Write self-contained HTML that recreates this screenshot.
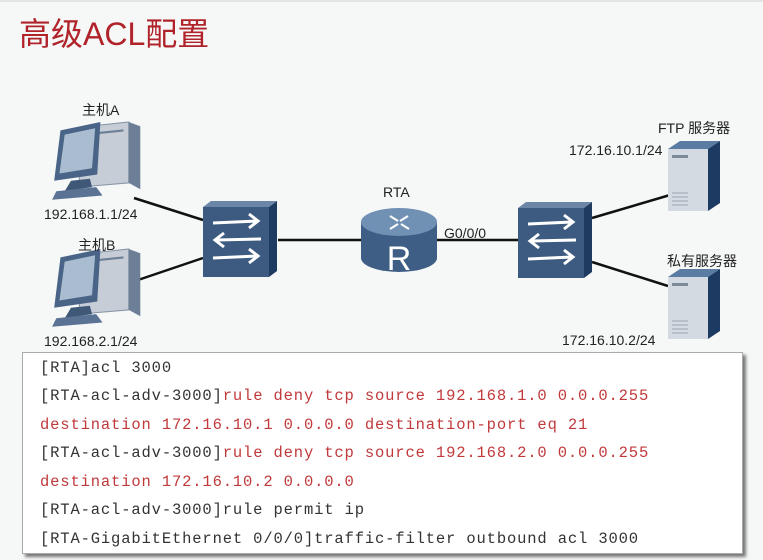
<!DOCTYPE html>
<html><head><meta charset="utf-8"><style>
html,body{margin:0;padding:0;background:#f6f8f7;}
body{width:763px;height:560px;position:relative;overflow:hidden;font-family:"Liberation Sans","Noto Sans CJK SC",sans-serif;}
.t{position:absolute;font-size:14px;color:#222;}
.code{position:absolute;left:22px;top:352px;width:719px;height:200px;background:#fff;border:1px solid #aaa;box-shadow:3px 3px 3px #777;}
.code div{position:absolute;left:17px;font-family:"Liberation Mono",monospace;font-size:15.5px;color:#333;white-space:pre;letter-spacing:0.85px;}
.code .r{color:#c0393b;}
</style></head><body>
<div style="position:absolute;left:0;top:0;width:763px;height:2px;background:#e4e4e4"></div>
<div style="position:absolute;left:19px;top:9px;font-size:32px;color:#b1232b;font-family:'Liberation Sans','Noto Sans CJK SC',sans-serif;">高级ACL配置</div>
<svg width="763" height="352" style="position:absolute;left:0;top:0">
<defs>
<g id="pc">
 <polygon points="28,5 75,0 75,58 28,62" fill="#c6cdd6" stroke="#8896a6"/>
 <polygon points="75,0 86,4 86,64 75,58" fill="#6d7f96"/>
 <line x1="32" y1="12" x2="70" y2="8" stroke="#6d7f96" stroke-width="2"/>
 <polygon points="10,8 48,0 45,50 4,56" fill="#4a6487"/>
 <polygon points="14,12 43,6 40,44 9,49" fill="#a9bcd0"/>
 <polygon points="20,56 38,54 40,62 14,66" fill="#3f5877"/>
 <polygon points="6,66 44,62 50,70 2,74" fill="#5a7394"/>
</g>
<g id="sw">
 <polygon points="0,6 8,0 74,0 66,6" fill="#6b86a6"/>
 <polygon points="66,6 74,0 74,70 66,76" fill="#1f3b5f"/>
 <rect x="0" y="6" width="66" height="70" fill="#3d5b80"/>
 <g stroke="#fff" stroke-width="3" fill="none">
 <line x1="10" y1="22" x2="54" y2="20"/><polyline points="46,13 55,20 46,27"/>
 <line x1="14" y1="39" x2="58" y2="38"/><polyline points="21,32 12,39 21,46"/>
 <line x1="10" y1="57" x2="54" y2="55"/><polyline points="46,48 55,55 46,62"/>
 </g>
</g>
<g id="srv">
 <polygon points="0,8 12,0 52,0 40,8" fill="#5a7ca3"/>
 <polygon points="40,8 52,0 52,62 40,70" fill="#1d3a62"/>
 <rect x="0" y="8" width="40" height="62" fill="#d4dae2"/>
 <rect x="4" y="14" width="16" height="3" fill="#7d8a99"/>
 <g stroke="#9aa6b3"><line x1="4" y1="52" x2="20" y2="52"/><line x1="4" y1="56" x2="20" y2="56"/><line x1="4" y1="60" x2="20" y2="60"/><line x1="4" y1="64" x2="20" y2="64"/></g>
</g>
</defs>
<g stroke="#111" stroke-width="2.5">
 <line x1="134" y1="198" x2="203" y2="220"/>
 <line x1="138" y1="280" x2="203" y2="258"/>
 <line x1="278" y1="240" x2="362" y2="240"/>
 <line x1="437" y1="240" x2="518" y2="240"/>
 <line x1="592" y1="218" x2="670" y2="195"/>
 <line x1="592" y1="262" x2="668" y2="286"/>
</g>
<use href="#pc" transform="translate(50,122) scale(1.05)"/>
<use href="#pc" transform="translate(50,249) scale(1.05)"/>
<use href="#sw" x="203" y="201"/>
<use href="#sw" x="518" y="202"/>
<use href="#srv" x="668" y="141"/>
<use href="#srv" x="668" y="269"/>
<path d="M361,222 L361,258 A38,14 0 0 0 437,258 L437,222 Z" fill="#3e5e85"/>
<ellipse cx="399" cy="222" rx="38" ry="14" fill="#7090b4"/>
<g stroke="#fff" stroke-width="2" fill="none">
 <line x1="390" y1="216" x2="398" y2="221"/><line x1="408" y1="216" x2="400" y2="221"/>
 <line x1="390" y1="229" x2="398" y2="224"/><line x1="409" y1="229" x2="401" y2="224"/>
</g>
<text x="399" y="270" font-family="Liberation Sans" font-size="34" fill="#fff" text-anchor="middle">R</text>
</svg>
<div class="t" style="left:82px;top:100px">主机A</div>
<div class="t" style="left:44px;top:206px">192.168.1.1/24</div>
<div class="t" style="left:78px;top:235px">主机B</div>
<div class="t" style="left:44px;top:333px">192.168.2.1/24</div>
<div class="t" style="left:383px;top:184px">RTA</div>
<div class="t" style="left:444px;top:225px">G0/0/0</div>
<div class="t" style="left:658px;top:118px">FTP 服务器</div>
<div class="t" style="left:569px;top:142px">172.16.10.1/24</div>
<div class="t" style="left:667px;top:251px">私有服务器</div>
<div class="t" style="left:562px;top:332px">172.16.10.2/24</div>
<div class="code">
<div style="top:6px">[RTA]acl 3000</div>
<div style="top:34px">[RTA-acl-adv-3000]<span class="r">rule deny tcp source 192.168.1.0 0.0.0.255</span></div>
<div style="top:63px" class="r">destination 172.16.10.1 0.0.0.0 destination-port eq 21</div>
<div style="top:91px">[RTA-acl-adv-3000]<span class="r">rule deny tcp source 192.168.2.0 0.0.0.255</span></div>
<div style="top:120px" class="r">destination 172.16.10.2 0.0.0.0</div>
<div style="top:148px">[RTA-acl-adv-3000]rule permit ip</div>
<div style="top:177px">[RTA-GigabitEthernet 0/0/0]traffic-filter outbound acl 3000</div>
</div>
</body></html>
